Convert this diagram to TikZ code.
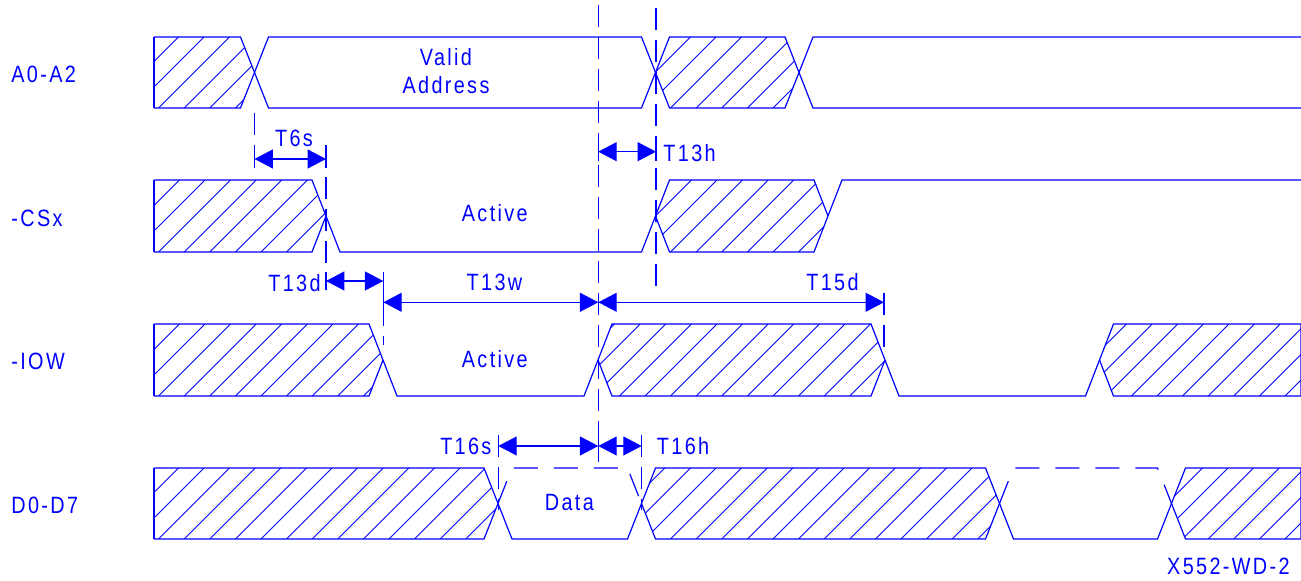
\documentclass[tikz,border=0pt]{standalone}
\usepackage{fontspec}
\setmainfont{Liberation Sans}[FakeStretch=0.84,LetterSpace=10]
\usetikzlibrary{arrows.meta}

\tikzset{
  sigline/.style={draw=blue,line width=0.6pt,line join=miter},
  floatline/.style={sigline,dash pattern=on 12pt off 8pt},
  hatchline/.style={draw=blue,line width=0.45pt},
  refline/.style={draw=blue,line width=0.6pt,dash pattern=on 11pt off 5pt},
  tickline/.style={draw=blue,line width=0.6pt},
  dimarrow/.style={draw=blue,line width=0.6pt,{Triangle[length=9.2pt,width=9.5pt]}-{Triangle[length=9.2pt,width=9.5pt]}},
  siglabel/.style={anchor=base west,text=blue,inner sep=0pt},
  lbl/.style={anchor=base,text=blue,inner sep=0pt},
}

% hatched (unknown) block: #1 outline, #2 top y, #3 bottom y
\newcommand{\hatchbox}[3]{%
  \begin{scope}
    \clip #1;
    \foreach \hk in {0,...,50}
      \draw[hatchline] ({56.2+25.6*\hk},#3) -- ++({#3-#2},{#2-#3});
  \end{scope}}

\begin{document}
\begin{tikzpicture}[x=0.5pt,y=-0.5pt,font=\fontsize{11.8}{14}\selectfont]

        % Frame
        \useasboundingbox (0,0) rectangle (1301,581);

        % Signal names
        \node[siglabel] (lblA) at (11,82.7) {A0-A2};
        \node[siglabel] (lblCS) at (11,226.7) {-CSx};
        \node[siglabel] (lblIOW) at (11,370) {-IOW};
        \node[siglabel] (lblD) at (11,513.3) {D0-D7};
        \node[anchor=base east,text=blue,inner sep=0pt] (fig) at (1290,575) {X552-WD-2};

        % A0-A2
        \hatchbox{(154,37)--(240.5,37)--(254.5,72.5)--(240.5,108)--(154,108)--cycle}{37}{108}
        \hatchbox{(655.5,72.5)--(669.5,37)--(785,37)--(799,72.5)--(785,108)--(669.5,108)--cycle}{37}{108}
        \draw[sigline] (154,37) -- (154,108);
        \draw[sigline] (154,37) -- (240.5,37) -- (268.5,108) -- (641.5,108) -- (669.5,37) -- (785,37) -- (813,108) -- (1301,108);
        \draw[sigline] (154,108) -- (240.5,108) -- (268.5,37) -- (641.5,37) -- (669.5,108) -- (785,108) -- (813,37) -- (1301,37);
        \node[lbl] (valid) at (446,66) {Valid};
        \node[lbl] (addr) at (446,94) {Address};

        % -CSx
        \hatchbox{(154,180)--(312,180)--(326,216)--(312,252)--(154,252)--cycle}{180}{252}
        \hatchbox{(655.5,216)--(669.5,180)--(814,180)--(828,216)--(814,252)--(669.5,252)--cycle}{180}{252}
        \draw[sigline] (154,180) -- (154,252);
        \draw[sigline] (154,180) -- (312,180) -- (340,252) -- (641.5,252) -- (669.5,180) -- (814,180) -- (828,216);
        \draw[sigline] (154,252) -- (312,252) -- (326,216);
        \draw[sigline] (655.5,216) -- (669.5,252) -- (814,252) -- (842,180) -- (1301,180);
        \node[lbl] (csact) at (494.8,221.7) {Active};

        % -IOW
        \hatchbox{(154,324)--(369,324)--(383,360)--(369,396)--(154,396)--cycle}{324}{396}
        \hatchbox{(598,360)--(612,324)--(871,324)--(885,360)--(871,396)--(612,396)--cycle}{324}{396}
        \hatchbox{(1099.5,360)--(1113.5,324)--(1301,324)--(1301,396)--(1113.5,396)--cycle}{324}{396}
        \draw[sigline] (154,324) -- (154,396);
        \draw[sigline] (154,324) -- (369,324) -- (397,396) -- (584,396) -- (612,324) -- (871,324) -- (899,396) -- (1085.5,396) -- (1113.5,324) -- (1301,324) -- (1301,396);
        \draw[sigline] (154,396) -- (369,396) -- (383,360);
        \draw[sigline] (598,360) -- (612,396) -- (871,396) -- (885,360);
        \draw[sigline] (1099.5,360) -- (1113.5,396) -- (1301,396);
        \node[lbl] (iowact) at (494.8,367.3) {Active};

        % D0-D7
        \hatchbox{(154,468)--(484,468)--(498,503.5)--(484,539)--(154,539)--cycle}{468}{539}
        \hatchbox{(641.5,503.5)--(655.5,468)--(985.5,468)--(999.5,503.5)--(985.5,539)--(655.5,539)--cycle}{468}{539}
        \hatchbox{(1171.5,503.5)--(1185.5,468)--(1301,468)--(1301,539)--(1185.5,539)--cycle}{468}{539}
        \draw[sigline] (154,468) -- (154,539);
        \draw[sigline] (154,468) -- (484,468) -- (512,539) -- (627.5,539) -- (655.5,468) -- (985.5,468) -- (1013.5,539) -- (1157.5,539) -- (1185.5,468) -- (1301,468) -- (1301,539);
        \draw[sigline] (154,539) -- (484,539) -- (498,503.5);
        \draw[sigline] (641.5,503.5) -- (655.5,539) -- (985.5,539) -- (999.5,503.5);
        \draw[sigline] (1171.5,503.5) -- (1185.5,539) -- (1301,539);
        \draw[floatline] (498,503.5) -- (512,468) -- (627.5,468) -- (641.5,503.5);
        \draw[floatline] (999.5,503.5) -- (1013.5,468) -- (1157.5,468) -- (1171.5,503.5);
        \node[lbl] (data) at (569.3,510.7) {Data};

        % Reference lines
        \foreach \x/\ya/\yb in {254.5/113/167, 326/145/289, 383.3/272/345, 598.3/5/462,
                                 656/8/295, 884/293/357, 498.3/435/510, 641.7/435/510} {
            \draw[refline] (\x,\ya) -- (\x,\yb);
        }

        % Timing arrows
        \coordinate (t6sL) at (254.5,159);
        \coordinate (t6sR) at (326,159);
        \coordinate (t13hL) at (598.3,151.7);
        \coordinate (t13hR) at (656,151.7);
        \coordinate (t13dL) at (326,281);
        \coordinate (t13dR) at (383.3,281);
        \coordinate (t13wL) at (383.3,302.3);
        \coordinate (wrmid) at (598.3,302.3);
        \coordinate (t15dR) at (884,302.3);
        \coordinate (t16sL) at (498.3,446);
        \coordinate (dmid) at (598.3,446);
        \coordinate (t16hR) at (641.7,446);
        \foreach \a/\b in {t6sL/t6sR, t13hL/t13hR, t13dL/t13dR, t13wL/wrmid, wrmid/t15dR, t16sL/dmid, dmid/t16hR} {
            \draw[dimarrow] (\a) -- (\b);
            \draw[tickline] ([yshift=-4.5pt]\a) -- ([yshift=4.5pt]\a);
            \draw[tickline] ([yshift=-4.5pt]\b) -- ([yshift=4.5pt]\b);
        }
        \node[lbl] (t6s) at (294,146.7) {T6s};
        \node[siglabel] (t13h) at (663,161.7) {T13h};
        \node[anchor=base east,text=blue,inner sep=0pt] (t13d) at (321,291.7) {T13d};
        \node[lbl] (t13w) at (494.5,291) {T13w};
        \node[lbl] (t15d) at (832.5,291) {T15d};
        \node[anchor=base east,text=blue,inner sep=0pt] (t16s) at (491.8,455) {T16s};
        \node[siglabel] (t16h) at (656.5,455) {T16h};

    \end{tikzpicture}
\end{document}
